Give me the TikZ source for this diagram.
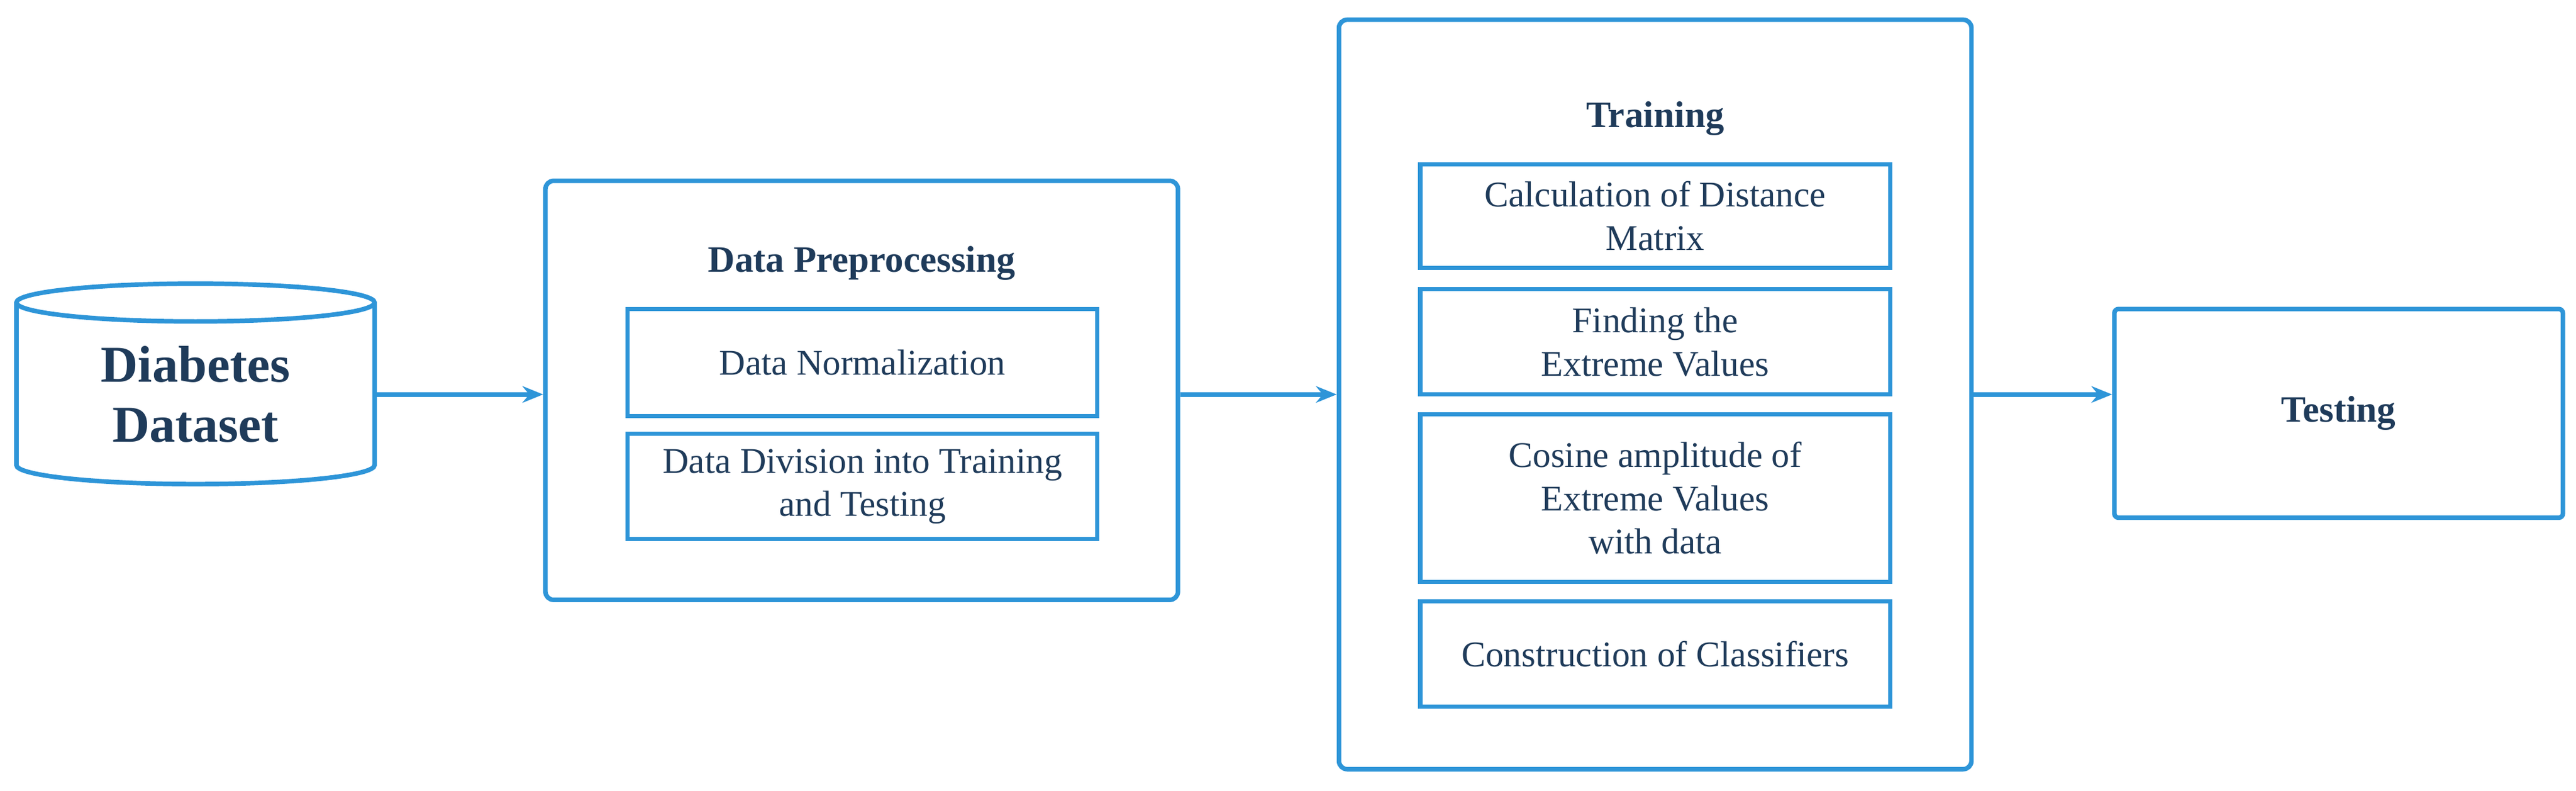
\documentclass[tikz,border=0pt]{standalone}
\usepackage{fontspec}
\setmainfont{Liberation Serif}
\usetikzlibrary{shapes.geometric,arrows.meta}
\definecolor{bl}{HTML}{2E95D8}
\definecolor{nv}{HTML}{1F3B5A}
\begin{document}
\begin{tikzpicture}[x=0.02795cm,y=-0.02795cm,
 box/.style={draw=bl,line width=2.2pt,rounded corners=4pt,text=nv,align=center,font=\fontsize{17}{20}\selectfont},
 ibox/.style={draw=bl,line width=2pt,text=nv,align=center,font=\fontsize{17.5}{21}\selectfont,minimum width=286*0.02795cm,inner sep=0pt},
 arr/.style={draw=bl,line width=2.2pt,-{Stealth[length=10pt,width=8pt]}},
 ttl/.style={text=nv,font=\bfseries\fontsize{18}{21}\selectfont}]
\useasboundingbox (0,0) rectangle (1568,481);
% cylinder
\node[cylinder,shape border rotate=90,draw=bl,line width=2.2pt,aspect=0.2,minimum width=218*0.02795cm,minimum height=122*0.02795cm,inner sep=0pt,text=nv,align=center,font=\bfseries\fontsize{25}{29}\selectfont] (db) at (119,240) {Diabetes\\Dataset};
% preprocessing
\node[box,minimum width=385*0.02795cm,minimum height=255*0.02795cm] (pp) at (524.5,237.5) {};
\node[ttl] (ppt) at (524.5,160) {Data Preprocessing};
\node[ibox,minimum height=65*0.02795cm] (dn) at (525,220.5) {Data Normalization};
\node[ibox,minimum height=64*0.02795cm] (dd) at (525,296) {Data Division into Training\\and Testing};
% training
\node[box,minimum width=385*0.02795cm,minimum height=456*0.02795cm] (tr) at (1007.5,240) {};
\node[ttl] (trt) at (1007.5,72) {Training};
\node[ibox,minimum height=63*0.02795cm] (c1) at (1007.5,131.5) {Calculation of Distance\\Matrix};
\node[ibox,minimum height=64*0.02795cm] (c2) at (1007.5,208) {Finding the\\Extreme Values};
\node[ibox,minimum height=102*0.02795cm] (c3) at (1007.5,303) {Cosine amplitude of\\Extreme Values\\with data};
\node[ibox,minimum height=64*0.02795cm] (c4) at (1007.5,398) {Construction of Classifiers};
% testing
\node[box,rounded corners=2pt,minimum width=273*0.02795cm,minimum height=127*0.02795cm,font=\bfseries\fontsize{18}{21}\selectfont] (te) at (1423.5,251.5) {Testing};
% arrows
\draw[arr] (db.east|-0,240) -- (pp.west|-0,240);
\draw[arr] (pp.east|-0,240) -- (tr.west|-0,240);
\draw[arr] (tr.east|-0,240) -- (te.west|-0,240);
\end{tikzpicture}
\end{document}
